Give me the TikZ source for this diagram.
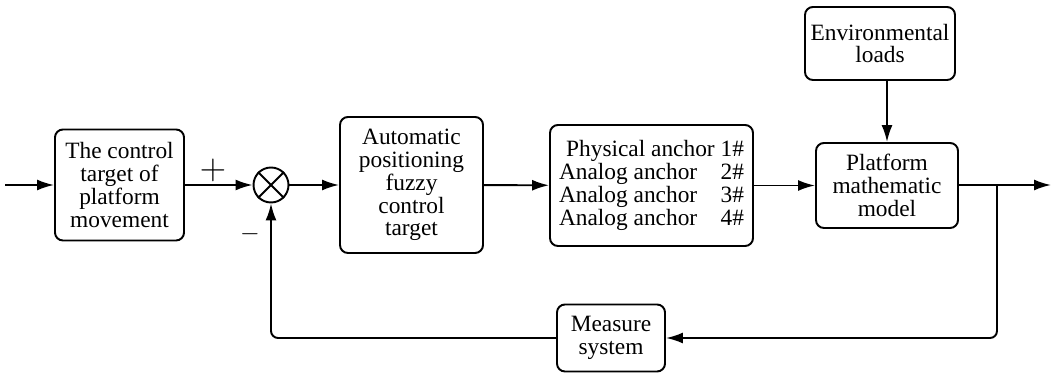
\documentclass[tikz,border=0pt]{standalone}
\usepackage{fontspec}
\setmainfont{Liberation Serif}
\newfontfamily\timesf{Liberation Serif}
\usepackage{tikz}
\usetikzlibrary{arrows.meta,calc}

\begin{document}
\begin{tikzpicture}[>={Latex[length=3.4mm,width=2.2mm]},line width=1.1pt,
  blk/.style={draw,rounded corners=4.5pt,align=center,inner sep=2pt,
    font={\timesf\fontsize{13.3}{13}\selectfont}},
  sgn/.style={inner sep=0pt}]
        \useasboundingbox (0,0) rectangle (21.02,7.48);
        \node[blk,minimum width=2.58cm,minimum height=2.22cm] (ctrl) at (2.39,3.78) {The control\\target of\\platform\\movement};
        \node[draw,circle,minimum size=0.7cm] (sum) at (5.42,3.78) {};
        \node[blk,minimum width=2.86cm,minimum height=2.72cm] (fuzzy) at (8.23,3.78) {Automatic\\positioning\\fuzzy\\control\\target};
        \node[blk,align=right,minimum width=4.06cm,minimum height=2.42cm] (anch) at (13.03,3.77) {Physical anchor 1\#\\Analog anchor\hspace{1em}2\#\\Analog anchor\hspace{1em}3\#\\Analog anchor\hspace{1em}4\#};
        \node[blk,minimum width=2.84cm,minimum height=1.7cm] (plat) at (17.74,3.77) {Platform\\mathematic\\model};
        \node[blk,minimum width=3.0cm,minimum height=1.46cm] (env) at (17.6,6.61) {Environmental\\loads};
        \node[blk,minimum width=2.16cm,minimum height=1.34cm] (meas) at (12.22,0.72) {Measure\\system};
        \node[sgn,font={\fontsize{22}{22}\selectfont}] (plus) at (4.26,4.08) {$+$};
        \node[sgn,font={\fontsize{14}{14}\selectfont}] (minus) at (5.0,2.8) {$-$};
        \coordinate (in) at (0.1,3.78);
        \coordinate (out) at (21.02,3.78);
        \coordinate (br) at (19.94,3.78);
        \draw (sum.north east) -- (sum.south west);
        \draw (sum.north west) -- (sum.south east);
        \draw[->] (in) -- (ctrl);
        \draw[->] (ctrl) -- (sum);
        \draw[->] (sum) -- (fuzzy);
        \draw[->] (fuzzy) -- (anch);
        \draw[->] (anch) -- (plat.west |- anch);
        \draw[->] (plat.north |- env.south) -- (plat.north);
        \draw[->] (plat.east |- out) -- (out);
        \draw[->,rounded corners=4pt] (br) |- (meas.east);
        \draw[->,rounded corners=4pt] (meas.west) -| (sum.south);
      \end{tikzpicture}
\end{document}
